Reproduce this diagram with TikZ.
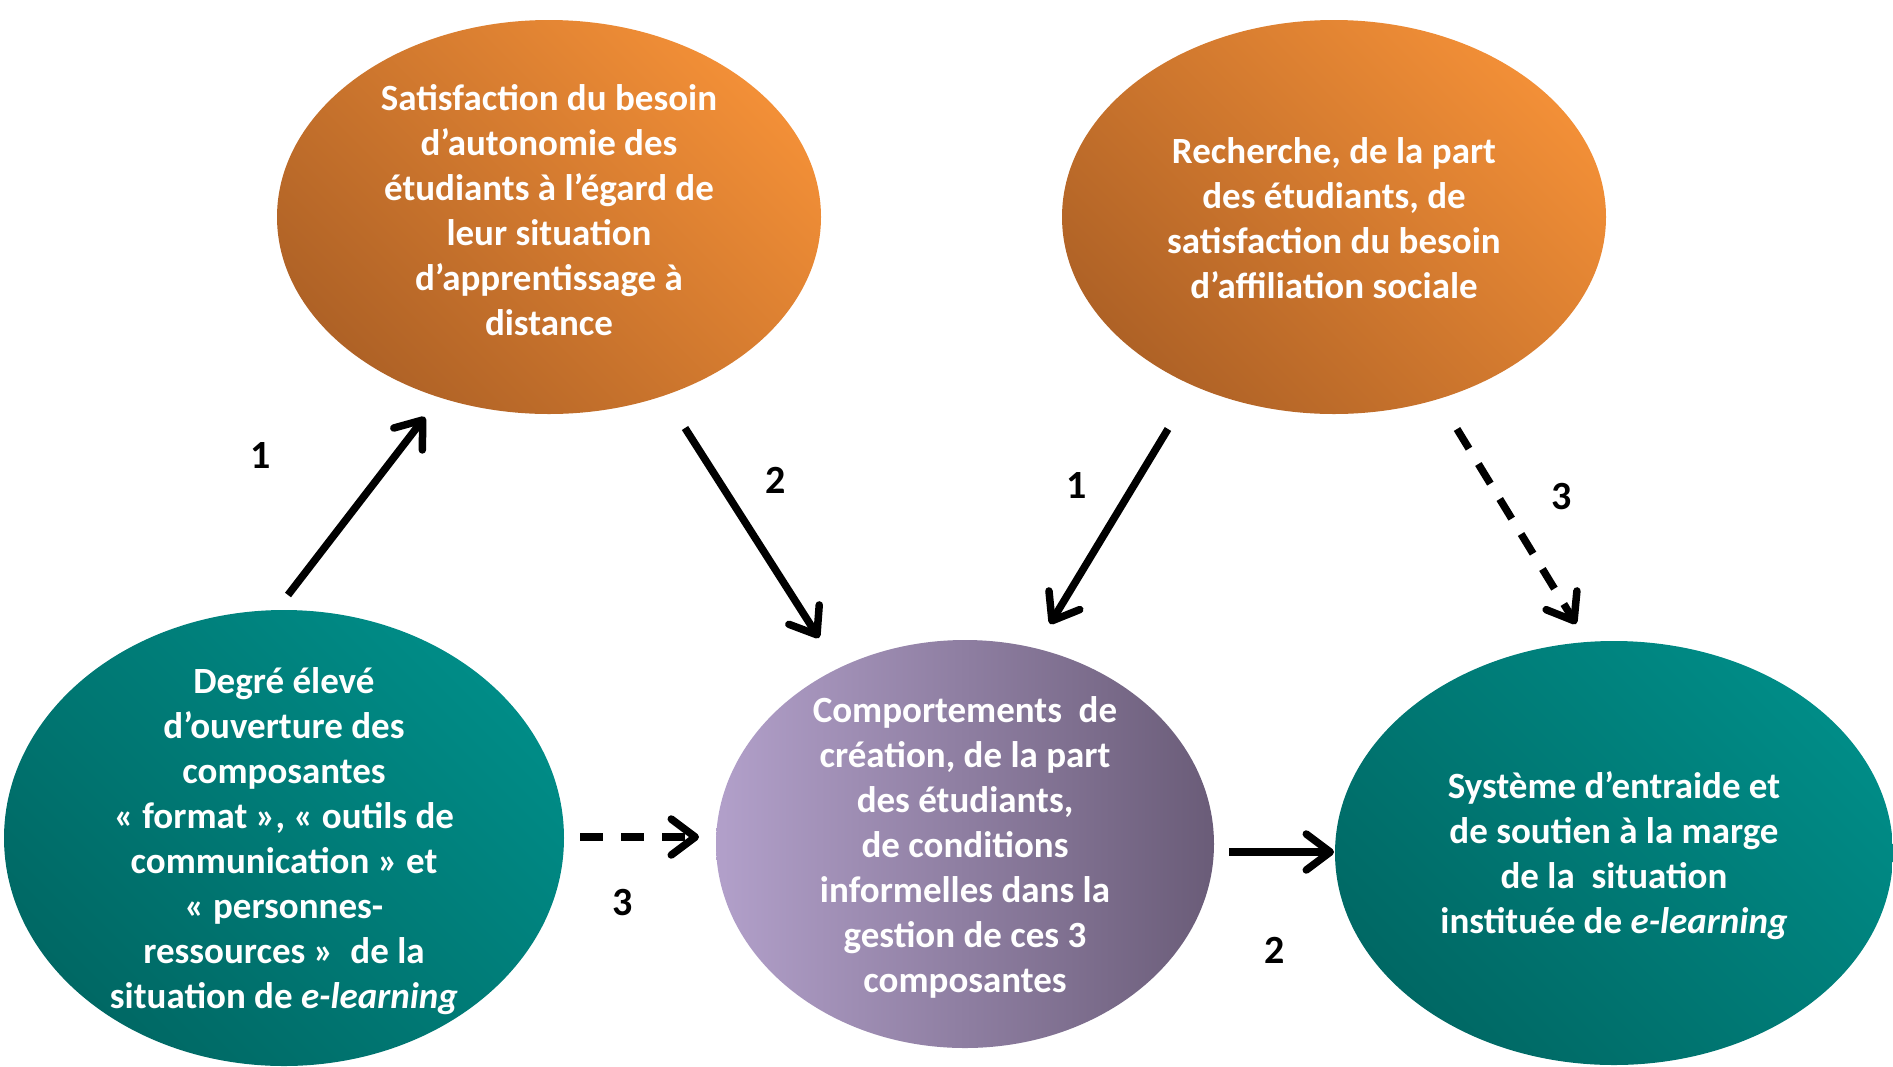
\documentclass[tikz,border=0pt]{standalone}
\usepackage{fontspec}
\setmainfont{Carlito}
\usetikzlibrary{arrows.meta,shapes.geometric}
\definecolor{orLight}{HTML}{F28F37}
\definecolor{orDark}{HTML}{AF6226}
\definecolor{teLight}{HTML}{008C87}
\definecolor{teDark}{HTML}{006864}
\definecolor{puLight}{HTML}{B2A0CA}
\definecolor{puDark}{HTML}{6A5C78}
\tikzset{
  bubble/.style={ellipse, inner sep=0pt},
  bubtext/.style={text=white, align=center, inner sep=0pt,
    font=\fontsize{37}{45}\selectfont\bfseries},
  orangeb/.style={bubble, top color=orLight, bottom color=orDark, shading angle=-45},
  tealb/.style={bubble, top color=teLight, bottom color=teDark, shading angle=-45},
  purpleb/.style={bubble, left color=puLight, right color=puDark},
  arr/.style={line width=7.5pt, -{Straight Barb[length=24pt,width=36pt,round]}},
  dasharr/.style={arr, dash pattern=on 23pt off 18pt},
  lbl/.style={font=\fontsize{40}{48}\selectfont\bfseries, text=black, inner sep=0pt}
}
\begin{document}
\begin{tikzpicture}[x=1pt,y=-1pt]
\useasboundingbox (0,0) rectangle (1893,1066);

\node[orangeb, minimum width=544pt, minimum height=394pt,
  label={[bubtext, yshift=7pt]center:{Satisfaction du besoin\\d’autonomie des\\étudiants à l’égard de\\leur situation\\d’apprentissage à\\distance}}] (tl) at (549,217) {};
\node[orangeb, minimum width=544pt, minimum height=394pt,
  label={[bubtext, yshift=-1pt]center:{Recherche, de la part\\des étudiants, de\\satisfaction du besoin\\d’affiliation sociale}}] (tr) at (1334,217) {};
\node[tealb, minimum width=560pt, minimum height=456pt,
  label={[bubtext, yshift=-3pt]center:{Degré élevé\\d’ouverture des\\composantes\\« format », « outils de\\communication » et\\« personnes-\\ressources »~ de la\\situation de \textit{e-learning}}}] (bl) at (284,838) {};
\node[purpleb, minimum width=498pt, minimum height=408pt,
  label={[bubtext, yshift=-3pt]center:{Comportements~ de\\création, de la part\\des étudiants,\\de conditions\\informelles dans la\\gestion de ces 3\\composantes}}] (mid) at (965,844) {};
\node[tealb, minimum width=558pt, minimum height=424pt,
  label={[bubtext, yshift=-3pt]center:{Système d’entraide et\\de soutien à la marge\\de la~ situation\\instituée de \textit{e-learning}}}] (br) at (1614,853) {};

\coordinate (a1s) at (288,595);
\coordinate (a1e) at (425,417);
\coordinate (a2s) at (685,428);
\coordinate (a2e) at (819,638);
\coordinate (b1s) at (1168,429);
\coordinate (b1e) at (1050,624);
\coordinate (b3s) at (1457,429);
\coordinate (b3e) at (1576,624);
\coordinate (c3s) at (580,837);
\coordinate (c3e) at (699,837);
\coordinate (c2s) at (1229,852);
\coordinate (c2e) at (1334,852);

\draw[arr] (a1s) -- (a1e);
\draw[arr] (a2s) -- (a2e);
\draw[arr] (b1s) -- (b1e);
\draw[dasharr] (b3s) -- (b3e);
\draw[dasharr] (c3s) -- (c3e);
\draw[arr] (c2s) -- (c2e);

\node[lbl] (l1) at (261,456) {1};
\node[lbl] (l2) at (776,480) {2};
\node[lbl] (l3) at (1077,486) {1};
\node[lbl] (l4) at (1562,497) {3};
\node[lbl] (l5) at (623,903) {3};
\node[lbl] (l6) at (1275,950) {2};
\end{tikzpicture}
\end{document}
